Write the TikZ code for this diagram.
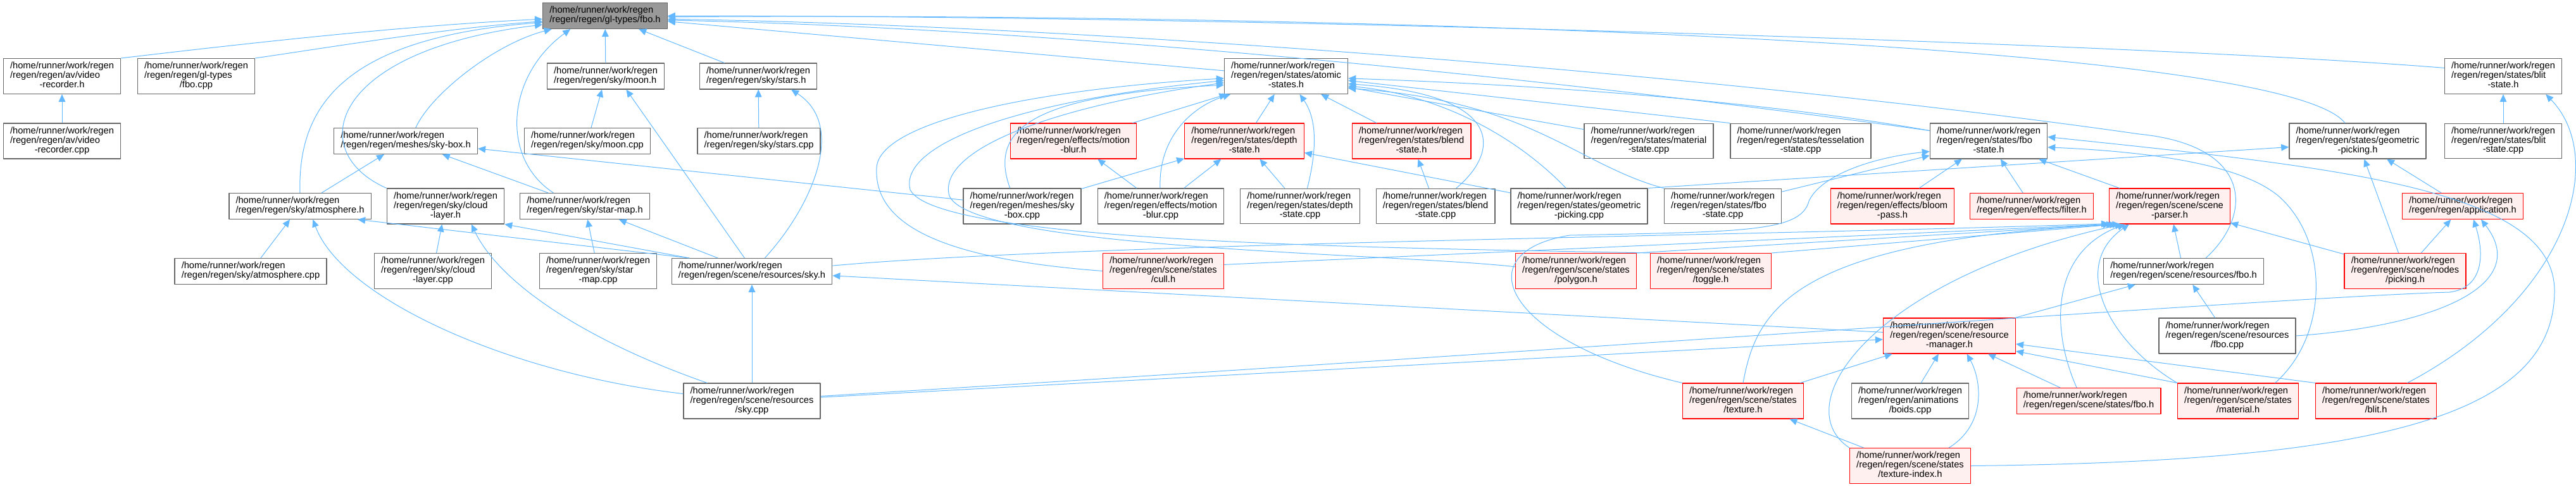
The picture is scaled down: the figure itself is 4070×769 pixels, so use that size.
\documentclass[tikz,border=0pt]{standalone}
\usepackage{fontspec}
\setmainfont{Liberation Sans}
\usetikzlibrary{arrows.meta}
\definecolor{edgeblue}{HTML}{63B8FF}
\definecolor{boxgray}{HTML}{666666}
\definecolor{partfill}{HTML}{FFF0F0}
\definecolor{rootfill}{HTML}{999999}
\newcommand{\incfile}[2]{\begin{tabular}{@{}l@{}}/home/runner/work/regen\\#1\\\multicolumn{1}{@{}c@{}}{#2}\end{tabular}}
\newcommand{\incfilen}[1]{\begin{tabular}{@{}l@{}}/home/runner/work/regen\\#1\end{tabular}}
\tikzset{
  filebox/.style={draw=boxgray, fill=white, line width=1pt, inner xsep=8pt, inner ysep=4pt, font=\fontsize{11}{11}\selectfont},
  partbox/.style={filebox, draw=red, fill=partfill},
  rootbox/.style={filebox, fill=rootfill},
  inc/.style={->, draw=edgeblue, line width=0.75pt},
}
\begin{document}
\begin{tikzpicture}[x=0.75pt, y=-0.75pt, >={Triangle[length=9pt,width=8pt]}, line join=round]
	\useasboundingbox (0,0) rectangle (4070,769);
	\node[rootbox] (fbo) at (956,25) {\incfilen{/regen/regen/gl-types/fbo.h}};
	\node[filebox] (videoh) at (98,120.5) {\incfile{/regen/regen/av/video}{-recorder.h}};
	\node[filebox] (glfbocpp) at (310,120.5) {\incfile{/regen/regen/gl-types}{/fbo.cpp}};
	\node[filebox] (moonh) at (957,120.5) {\incfilen{/regen/regen/sky/moon.h}};
	\node[filebox] (starsh) at (1198,120.5) {\incfilen{/regen/regen/sky/stars.h}};
	\node[filebox] (atomich) at (2032,120.5) {\incfile{/regen/regen/states/atomic}{-states.h}};
	\node[filebox] (blith) at (3955,120.5) {\incfile{/regen/regen/states/blit}{-state.h}};
	\node[filebox] (videocpp) at (98,223) {\incfile{/regen/regen/av/video}{-recorder.cpp}};
	\node[filebox] (skyboxh) at (641,223) {\incfilen{/regen/regen/meshes/sky-box.h}};
	\node[filebox] (mooncpp) at (928,223) {\incfilen{/regen/regen/sky/moon.cpp}};
	\node[filebox] (starscpp) at (1199,223) {\incfilen{/regen/regen/sky/stars.cpp}};
	\node[partbox] (mblurh) at (1696,223) {\incfile{/regen/regen/effects/motion}{-blur.h}};
	\node[partbox] (depthh) at (1966,223) {\incfile{/regen/regen/states/depth}{-state.h}};
	\node[partbox] (blendh) at (2230,223) {\incfile{/regen/regen/states/blend}{-state.h}};
	\node[filebox] (materialcpp) at (2605,223) {\incfile{/regen/regen/states/material}{-state.cpp}};
	\node[filebox] (tesselcpp) at (2845,223) {\incfile{/regen/regen/states/tesselation}{-state.cpp}};
	\node[filebox] (fbostateh) at (3142,223) {\incfile{/regen/regen/states/fbo}{-state.h}};
	\node[filebox] (geompickh) at (3725,223) {\incfile{/regen/regen/states/geometric}{-picking.h}};
	\node[filebox] (blitcpp) at (3955,223) {\incfile{/regen/regen/states/blit}{-state.cpp}};
	\node[filebox] (atmosh) at (474,326) {\incfilen{/regen/regen/sky/atmosphere.h}};
	\node[filebox] (cloudh) at (704,326) {\incfile{/regen/regen/sky/cloud}{-layer.h}};
	\node[filebox] (starmaph) at (924,326) {\incfilen{/regen/regen/sky/star-map.h}};
	\node[filebox] (skyboxcpp) at (1615,326) {\incfile{/regen/regen/meshes/sky}{-box.cpp}};
	\node[filebox] (mblurcpp) at (1834,326) {\incfile{/regen/regen/effects/motion}{-blur.cpp}};
	\node[filebox] (depthcpp) at (2054,326) {\incfile{/regen/regen/states/depth}{-state.cpp}};
	\node[filebox] (blendcpp) at (2268,326) {\incfile{/regen/regen/states/blend}{-state.cpp}};
	\node[filebox] (geompickcpp) at (2495,326) {\incfile{/regen/regen/states/geometric}{-picking.cpp}};
	\node[filebox] (fbostatecpp) at (2722,326) {\incfile{/regen/regen/states/fbo}{-state.cpp}};
	\node[partbox] (bloomh) at (2990,326) {\incfile{/regen/regen/effects/bloom}{-pass.h}};
	\node[partbox] (filterh) at (3210,326) {\incfilen{/regen/regen/effects/filter.h}};
	\node[partbox] (parserh) at (3428,326) {\incfile{/regen/regen/scene/scene}{-parser.h}};
	\node[partbox] (applicationh) at (3891,326) {\incfilen{/regen/regen/application.h}};
	\node[filebox] (atmoscpp) at (396,429) {\incfilen{/regen/regen/sky/atmosphere.cpp}};
	\node[filebox] (cloudcpp) at (684,428.5) {\incfile{/regen/regen/sky/cloud}{-layer.cpp}};
	\node[filebox] (starmapcpp) at (945,428.5) {\incfile{/regen/regen/sky/star}{-map.cpp}};
	\node[filebox] (skyh) at (1188,429) {\incfilen{/regen/regen/scene/resources/sky.h}};
	\node[partbox] (cullh) at (1838,428.5) {\incfile{/regen/regen/scene/states}{/cull.h}};
	\node[partbox] (polygonh) at (2490,428.5) {\incfile{/regen/regen/scene/states}{/polygon.h}};
	\node[partbox] (toggleh) at (2703,428.5) {\incfile{/regen/regen/scene/states}{/toggle.h}};
	\node[filebox] (resfboh) at (3450,429) {\incfilen{/regen/regen/scene/resources/fbo.h}};
	\node[partbox] (pickingh) at (3800,428.5) {\incfile{/regen/regen/scene/nodes}{/picking.h}};
	\node[partbox] (resmgrh) at (3080,531) {\incfile{/regen/regen/scene/resource}{-manager.h}};
	\node[filebox] (resfbocpp) at (3519,531) {\incfile{/regen/regen/scene/resources}{/fbo.cpp}};
	\node[filebox] (skycpp) at (1188,634) {\incfile{/regen/regen/scene/resources}{/sky.cpp}};
	\node[partbox] (texturesh) at (2754,634) {\incfile{/regen/regen/scene/states}{/texture.h}};
	\node[filebox] (boidscpp) at (3018,634) {\incfile{/regen/regen/animations}{/boids.cpp}};
	\node[partbox] (scenefboh) at (3300,634) {\incfilen{/regen/regen/scene/states/fbo.h}};
	\node[partbox] (materialh) at (3536,634) {\incfile{/regen/regen/scene/states}{/material.h}};
	\node[partbox] (blith2) at (3754,634) {\incfile{/regen/regen/scene/states}{/blit.h}};
	\node[partbox] (texindexh) at (3018,736.5) {\incfile{/regen/regen/scene/states}{/texture-index.h}};

	% gl-types/fbo.h
	\draw[inc] (videoh.north east) .. controls (420,65) and (650,40) .. (fbo.183);
	\draw[inc] (glfbocpp.north east) .. controls (520,75) and (700,45) .. (fbo.185);
	\draw[inc] (atmosh.north) .. controls (470,170) and (540,60) .. (fbo.186);
	\draw[inc] (cloudh.north west) .. controls (480,240) and (520,80) .. (fbo.188);
	\draw[inc] (skyboxh.53) .. controls (680,150) and (780,70) .. (fbo.194);
	\draw[inc] (starmaph.157) .. controls (790,250) and (800,120) .. (fbo.201);
	\draw[inc] (moonh) -- (fbo);
	\draw[inc] (starsh) -- (fbo);
	\draw[inc] (atomich) -- (fbo);
	\draw[inc] (fbostateh.170) .. controls (2500,130) and (1700,45) .. (fbo.356);
	\draw[inc] (resfboh.31) .. controls (3560,340) and (3560,230) .. (3380,212) .. controls (2700,115) and (1700,40) .. (fbo.357);
	\draw[inc] (geompickh.125) .. controls (3600,60) and (2000,20) .. (fbo.359);
	\draw[inc] (blith.172) .. controls (3400,70) and (2000,25) .. (fbo.east);

	\draw[inc] (videocpp) -- (videoh);
	\draw[inc] (atmosh) -- (skyboxh);
	\draw[inc] (starmaph) -- (skyboxh);
	\draw[inc] (skyboxcpp) -- (skyboxh);
	\draw[inc] (atmoscpp) -- (atmosh);
	\draw[inc] (skycpp.174) .. controls (800,590) and (540,470) .. (atmosh.314);
	\draw[inc] (skyh.168) -- (atmosh.347);
	\draw[inc] (cloudcpp) -- (cloudh);
	\draw[inc] (skycpp.158) .. controls (930,540) and (790,450) .. (cloudh.325);
	\draw[inc] (skyh.168) -- (cloudh.south east);
	\draw[inc] (starmapcpp) -- (starmaph);
	\draw[inc] (skyh) -- (starmaph);
	\draw[inc] (mooncpp) -- (moonh);
	\draw[inc] (skyh.119) -- (moonh.327);
	\draw[inc] (starscpp) -- (starsh);
	\draw[inc] (skyh.46) .. controls (1280,330) and (1340,200) .. (starsh.338);
	\draw[inc] (skycpp) -- (skyh);
	\draw[inc] (resmgrh) -- (skyh);

	% states/atomic-states.h
	\draw[inc] (mblurh) -- (atomich);
	\draw[inc] (depthh) -- (atomich);
	\draw[inc] (blendh) -- (atomich);
	\draw[inc] (depthcpp.68) .. controls (2080,240) and (2082,190) .. (atomich.307);
	\draw[inc] (skyboxcpp.124) .. controls (1560,200) and (1640,150) .. (atomich.188);
	\draw[inc] (mblurcpp.92) .. controls (1830,220) and (1880,170) .. (atomich.198);
	\draw[inc] (cullh.west) .. controls (1500,410) and (1380,360) .. (1385,265) .. controls (1390,190) and (1650,140) .. (atomich.182);
	\draw[inc] (toggleh.north west) .. controls (2200,392) and (1480,385) .. (1438,300) .. controls (1420,230) and (1600,160) .. (atomich.184);
	\draw[inc] (polygonh.176) .. controls (2200,400) and (1540,395) .. (1500,310) .. controls (1480,240) and (1650,170) .. (atomich.186);
	\draw[inc] (blendcpp.41) .. controls (2370,240) and (2380,150) .. (atomich.353);
	\draw[inc] (geompickcpp.126) .. controls (2400,220) and (2280,150) .. (atomich.351);
	\draw[inc] (fbostatecpp.north west) .. controls (2490,260) and (2420,160) .. (atomich.349);
	\draw[inc] (materialcpp) -- (atomich);
	\draw[inc] (tesselcpp.north west) -- (atomich.356);
	\draw[inc] (fbostateh.170) .. controls (2900,180) and (2600,140) .. (atomich.358);

	\draw[inc] (skyboxcpp) -- (depthh);
	\draw[inc] (mblurcpp) -- (depthh);
	\draw[inc] (depthcpp) -- (depthh);
	\draw[inc] (geompickcpp) -- (depthh);
	\draw[inc] (mblurcpp) -- (mblurh);
	\draw[inc] (blendcpp) -- (blendh);
	\draw[inc] (geompickcpp.north east) -- (geompickh.185);
	\draw[inc] (pickingh) -- (geompickh);
	\draw[inc] (applicationh) -- (geompickh);
	\draw[inc] (blitcpp) -- (blith);
	\draw[inc] (blith2.30) .. controls (4060,470) and (4120,250) .. (blith.337);
	\draw[inc] (pickingh) -- (applicationh);
	\draw[inc] (resfbocpp.east) .. controls (3850,515) and (4000,450) .. (applicationh.324);
	\draw[inc] (skycpp.4) .. controls (2400,560) and (3600,470) .. (3870,462) .. controls (3925,455) and (3925,400) .. (applicationh.309);

	% states/fbo-state.h
	\draw[inc] (fbostatecpp) -- (fbostateh);
	\draw[inc] (bloomh) -- (fbostateh);
	\draw[inc] (filterh) -- (fbostateh);
	\draw[inc] (parserh) -- (fbostateh);
	\draw[inc] (texturesh.north west) .. controls (2380,540) and (2310,400) .. (2480,372) .. controls (2750,366) and (2845,368) .. (2858,318) .. controls (2875,280) and (2950,250) .. (fbostateh.190);
	\draw[inc] (materialh.26) .. controls (3680,530) and (3680,380) .. (3600,310) .. controls (3540,260) and (3400,240) .. (fbostateh.354);
	\draw[inc] (texindexh.east) .. controls (3750,730) and (4036,660) .. (4036,460) .. controls (4036,300) and (3700,265) .. (fbostateh.4);

	% scene/scene-parser.h
	\draw[inc] (skyh.4) .. controls (1700,385) and (2800,372) .. (parserh.196);
	\draw[inc] (cullh.6) -- (parserh.197);
	\draw[inc] (polygonh.north east) -- (parserh.198);
	\draw[inc] (toggleh.north east) -- (parserh.199);
	\draw[inc] (texturesh.north) .. controls (2775,490) and (2830,380) .. (parserh.200);
	\draw[inc] (texindexh.north west) .. controls (2820,640) and (2960,440) .. (parserh.201);
	\draw[inc] (scenefboh.132) .. controls (3240,520) and (3240,400) .. (parserh.202);
	\draw[inc] (materialh.north west) .. controls (3330,540) and (3270,420) .. (parserh.204);
	\draw[inc] (resfboh) -- (parserh);
	\draw[inc] (pickingh) -- (parserh);

	\draw[inc] (resfbocpp) -- (resfboh);
	\draw[inc] (resmgrh) -- (resfboh);
	\draw[inc] (skycpp) -- (resmgrh);
	\draw[inc] (texturesh) -- (resmgrh);
	\draw[inc] (boidscpp) -- (resmgrh);
	\draw[inc] (texindexh.25) .. controls (3140,670) and (3130,600) .. (resmgrh.314);
	\draw[inc] (scenefboh) -- (resmgrh);
	\draw[inc] (materialh.north west) -- (resmgrh.347);
	\draw[inc] (blith2.north west) -- (resmgrh.353);
	\draw[inc] (texindexh) -- (texturesh);
\end{tikzpicture}
\end{document}
